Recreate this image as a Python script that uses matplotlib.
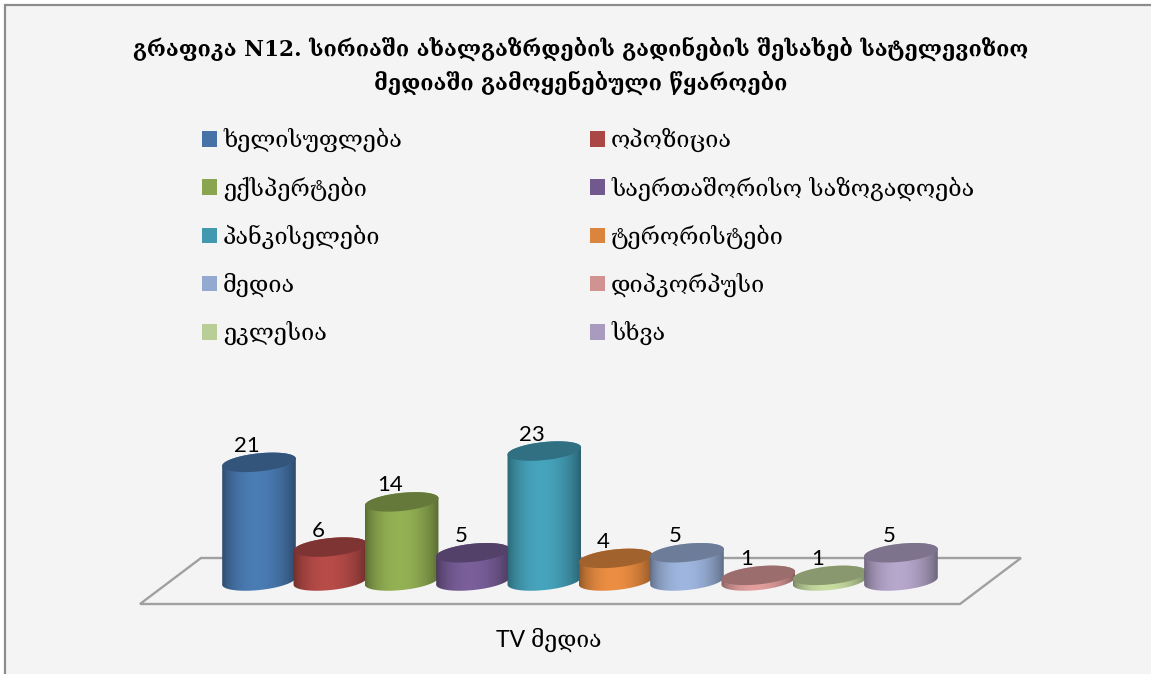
import numpy as np
import matplotlib
matplotlib.use('Agg')
import matplotlib.pyplot as plt
from matplotlib.patches import PathPatch, Rectangle, Polygon
from matplotlib.path import Path
from matplotlib.colors import to_rgb

WIDTH, HEIGHT, DPI = 1151, 674, 100

title_lines = ['გრაფიკა N12. სირიაში ახალგაზრდების გადინების შესახებ სატელევიზიო',
               'მედიაში გამოყენებული წყაროები']
categories = ['ხელისუფლება', 'ოპოზიცია', 'ექსპერტები', 'საერთაშორისო საზოგადოება',
              'პანკისელები', 'ტერორისტები', 'მედია', 'დიპკორპუსი', 'ეკლესია', 'სხვა']
values = [21, 6, 14, 5, 23, 4, 5, 1, 1, 5]
axis_label = 'TV მედია'

colors = ['#4573a7', '#aa4643', '#89a54e', '#71588f', '#4198af',
          '#db843d', '#93a9cf', '#d19392', '#b9cd96', '#a99bbd']

GEO = ['DejaVu Serif', 'DejaVu Sans']
LATIN = ['Lato', 'DejaVu Serif']

fig = plt.figure(figsize=(WIDTH / DPI, HEIGHT / DPI), dpi=DPI, facecolor='white')

# pixel axes for the frame, the floor and the texts
bg = fig.add_axes([0, 0, 1, 1])
bg.set_xlim(0, WIDTH)
bg.set_ylim(HEIGHT, 0)
bg.axis('off')
bg.add_patch(Rectangle((5, 5), WIDTH, HEIGHT, fc='#f4f4f4', ec='none'))
bg.plot([5, 5, WIDTH], [HEIGHT, 5, 5], color='#8c8c8c', lw=1.6, solid_joinstyle='miter')
bg.add_patch(Polygon([(140, 604), (201, 558), (1021, 558), (960, 604)], closed=True,
                     fc='#f4f4f4', ec='#a0a0a0', lw=1.7))

bg.text(581, 49, title_lines[0], family=GEO, weight='bold', fontsize=15.6,
        ha='center', va='center', color='black')
bg.text(581, 83, title_lines[1], family=GEO, weight='bold', fontsize=15.6,
        ha='center', va='center', color='black')
bg.text(549, 640, axis_label, family=LATIN, fontsize=16.5, ha='center', va='center',
        color='black')

# data axes, cylinders stand on value 0
PX_X = 71.33
PX_Y = 5.65
BASE_PX = 581
x0_px, x1_px = 259 - 0.7 * PX_X, 259 + 9.7 * PX_X
y0_px, y1_px = BASE_PX + 3 * PX_Y, BASE_PX - 27 * PX_Y
ax = fig.add_axes([x0_px / WIDTH, 1 - y0_px / HEIGHT,
                   (x1_px - x0_px) / WIDTH, (y0_px - y1_px) / HEIGHT])
ax.axis('off')

RX, RY, TILT = 37.0, 9.0, np.radians(6)


def ellipse_points(xc, yc, t):
    # tilted ellipse, radii in pixels, result in data units
    dx = RX * np.cos(t) * np.cos(TILT) - RY * np.sin(t) * np.sin(TILT)
    dy = RX * np.cos(t) * np.sin(TILT) + RY * np.sin(t) * np.cos(TILT)
    return xc + dx / PX_X, yc + dy / PX_Y


u = np.linspace(0, 1, 200)
shade = 0.62 + 0.46 * np.sin(np.pi * u ** 0.9) ** 0.7

for i, (v, c) in enumerate(zip(values, colors)):
    rgb = np.array(to_rgb(c))
    z = 2 + i

    t_low = np.linspace(np.pi, 2 * np.pi, 60)   # front of the base
    t_up = np.linspace(0, np.pi, 60)            # back of the top
    xb, yb = ellipse_points(i, 0, t_low)
    xt, yt = ellipse_points(i, v, t_up)
    # t runs with +y up, so t_low is the lower arc of the base
    outline = np.column_stack([np.r_[xb, xt], np.r_[yb, yt]])
    body = PathPatch(Path(np.vstack([outline, outline[0]]), closed=True),
                     transform=ax.transData, fc='none', ec='none')
    ax.add_patch(body)

    grad = np.clip(shade[None, :, None] * rgb, 0, 1)
    im = ax.imshow(grad, extent=(i - RX / PX_X, i + RX / PX_X, -3, 27), aspect='auto',
                   interpolation='bilinear', zorder=z)
    im.set_clip_path(body)

    xe, ye = ellipse_points(i, v, np.linspace(0, 2 * np.pi, 120))
    ax.fill(xe, ye, color=rgb * 0.74, lw=0, zorder=z + 0.1)

    ax.annotate(str(v), (i, v), xytext=(-12 * 72 / DPI, 16.5 * 72 / DPI),
                textcoords='offset points', ha='center', va='center',
                family=LATIN, fontsize=16, color='black', zorder=30)

ax.set_xlim(-0.7, 9.7)
ax.set_ylim(-3, 27)

# legend is filled column by column, picture reads row by row
order = [0, 2, 4, 6, 8, 1, 3, 5, 7, 9]
handles = [Rectangle((0, 0), 1, 1, fc=colors[k], ec='none') for k in order]
labels = [categories[k] for k in order]
fig.legend(handles, labels, ncols=2, loc='upper left',
           bbox_to_anchor=(202 / WIDTH, 1 - 128 / HEIGHT), frameon=False,
           prop={'family': GEO, 'size': 16.8}, handlelength=0.64, handleheight=0.64,
           handletextpad=0.26, labelspacing=1.03, columnspacing=8.07,
           borderpad=0, borderaxespad=0)

fig.savefig('out.png', dpi=DPI)
